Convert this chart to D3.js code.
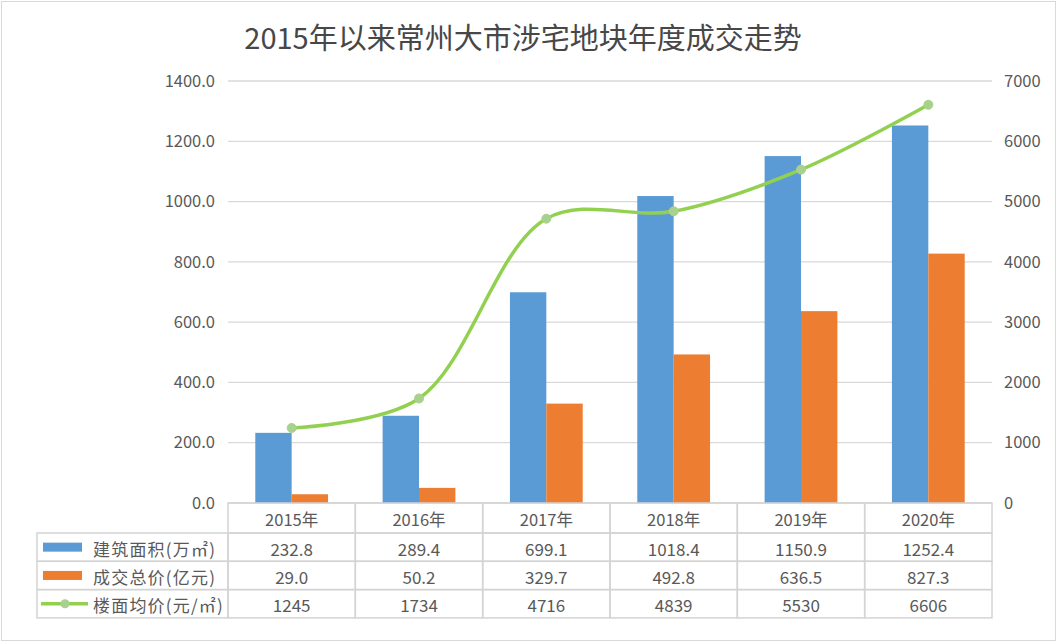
<!DOCTYPE html>
<html>
<head>
<meta charset="utf-8">
<script src="https://cdn.jsdelivr.net/npm/d3@7"></script>
<style>
  html, body { margin: 0; padding: 0; background: #fff; }
  svg { display: block; font-family: "Noto Sans CJK SC", "Noto Sans", sans-serif; }
</style>
</head>
<body>
<svg id="chart" width="1058" height="644"></svg>
<script>
// chart data
const years = ['2015年', '2016年', '2017年', '2018年', '2019年', '2020年'];
const area = [232.8, 289.4, 699.1, 1018.4, 1150.9, 1252.4];   // 建筑面积
const total = [29.0, 50.2, 329.7, 492.8, 636.5, 827.3];        // 成交总价
const price = [1245, 1734, 4716, 4839, 5530, 6606];            // 楼面均价
const seriesNames = ['建筑面积(万㎡)', '成交总价(亿元)', '楼面均价(元/㎡)'];
const leftTicks = [0, 200, 400, 600, 800, 1000, 1200, 1400];
const rightTicks = [0, 1000, 2000, 3000, 4000, 5000, 6000, 7000];
const title = '2015年以来常州大市涉宅地块年度成交走势';

const blue = '#5b9bd5', orange = '#ed7d31', green = '#92d050', markerFill = '#a9d18e';
const textColor = '#595959';

const svg = d3.select('#chart');

// outer frame
svg.append('rect')
    .attr('x', 1.5).attr('y', 1.5).attr('width', 1054).attr('height', 639)
    .attr('fill', '#fff').attr('stroke', '#d9d9d9');

// title
svg.append('text')
    .attr('x', 523).attr('y', 36)
    .attr('text-anchor', 'middle').attr('dominant-baseline', 'central')
    .attr('font-size', 29).attr('fill', '#474747')
    .text(title);

// scales
let x = d3.scaleBand().domain(years).range([228, 992]);
let y = d3.scaleLinear().domain([0, 1400]).range([503, 81]);
let y2 = d3.scaleLinear().domain([0, 7000]).range([503, 81]);

// gridlines
svg.append('g').selectAll('line')
    .data(leftTicks)
    .join('line')
    .attr('x1', 228).attr('x2', 992)
    .attr('y1', d => y(d)).attr('y2', d => y(d))
    .attr('stroke', '#d9d9d9').attr('stroke-width', 1.3);

// axes
let leftAxis = svg.append('g')
    .attr('transform', 'translate(228,0)')
    .call(d3.axisLeft(y).tickValues(leftTicks).tickFormat(d3.format('.1f')).tickSize(0).tickPadding(13));
let rightAxis = svg.append('g')
    .attr('transform', 'translate(992,0)')
    .call(d3.axisRight(y2).tickValues(rightTicks).tickFormat(d => d).tickSize(0).tickPadding(12));
[leftAxis, rightAxis].forEach(a => {
    a.select('.domain').remove();
    a.selectAll('text')
        .attr('font-size', 16.5).attr('fill', textColor)
        .attr('font-family', '"Noto Sans CJK SC", sans-serif');
});

// bars (gap width 150%)
let barW = x.bandwidth() / 3.5;
let bars = svg.append('g');
bars.selectAll('.area')
    .data(area)
    .join('rect')
    .attr('x', (d, i) => x(years[i]) + x.bandwidth() / 2 - barW)
    .attr('y', d => y(d))
    .attr('width', barW)
    .attr('height', d => y(0) - y(d))
    .attr('fill', blue);
bars.selectAll('.total')
    .data(total)
    .join('rect')
    .attr('x', (d, i) => x(years[i]) + x.bandwidth() / 2)
    .attr('y', d => y(d))
    .attr('width', barW)
    .attr('height', d => y(0) - y(d))
    .attr('fill', orange);

// smoothed price line
let line = d3.line()
    .x((d, i) => x(years[i]) + x.bandwidth() / 2)
    .y(d => y2(d))
    .curve(d3.curveCatmullRom.alpha(0.5));
svg.append('path')
    .datum(price)
    .attr('d', line)
    .attr('fill', 'none')
    .attr('stroke', green)
    .attr('stroke-width', 3.5);
svg.append('g').selectAll('circle')
    .data(price)
    .join('circle')
    .attr('cx', (d, i) => x(years[i]) + x.bandwidth() / 2)
    .attr('cy', d => y2(d))
    .attr('r', 4.5)
    .attr('fill', markerFill)
    .attr('stroke', markerFill);

// data table
const tableTop = 503, headH = 30, rowH = 28.3, labelLeft = 37;
const colLeft = i => x(years[i]);
let table = svg.append('g');
let lineColor = '#d4d4d4';

// header row
years.forEach((yr, i) => {
    table.append('rect')
        .attr('x', colLeft(i)).attr('y', tableTop)
        .attr('width', x.bandwidth()).attr('height', headH)
        .attr('fill', 'none').attr('stroke', lineColor).attr('stroke-width', 1.5);
    table.append('text')
        .attr('x', colLeft(i) + x.bandwidth() / 2).attr('y', tableTop + headH / 2 + 1)
        .attr('text-anchor', 'middle').attr('dominant-baseline', 'central')
        .attr('font-size', 16.5).attr('fill', textColor)
        .text(yr);
});

const rows = [
    { name: seriesNames[0], values: area.map(d => d.toFixed(1)), color: blue, type: 'bar' },
    { name: seriesNames[1], values: total.map(d => d.toFixed(1)), color: orange, type: 'bar' },
    { name: seriesNames[2], values: price.map(d => String(d)), color: green, type: 'line' }
];

rows.forEach((row, r) => {
    let top = tableTop + headH + r * rowH;
    let mid = top + rowH / 2;
    // label cell
    table.append('rect')
        .attr('x', labelLeft).attr('y', top)
        .attr('width', 228 - labelLeft).attr('height', rowH)
        .attr('fill', 'none').attr('stroke', lineColor).attr('stroke-width', 1.5);
    if (row.type === 'bar') {
        table.append('rect')
            .attr('x', 43).attr('y', mid - 4.5)
            .attr('width', 39).attr('height', 9)
            .attr('fill', row.color);
    } else {
        table.append('line')
            .attr('x1', 41).attr('x2', 88).attr('y1', mid).attr('y2', mid)
            .attr('stroke', row.color).attr('stroke-width', 3.5);
        table.append('circle')
            .attr('cx', 65).attr('cy', mid).attr('r', 4.5)
            .attr('fill', markerFill);
    }
    table.append('text')
        .attr('x', 93).attr('y', mid + 1)
        .attr('dominant-baseline', 'central')
        .attr('font-size', 17).attr('letter-spacing', 1.2).attr('fill', textColor)
        .text(row.name);
    // value cells
    row.values.forEach((v, i) => {
        table.append('rect')
            .attr('x', colLeft(i)).attr('y', top)
            .attr('width', x.bandwidth()).attr('height', rowH)
            .attr('fill', 'none').attr('stroke', lineColor).attr('stroke-width', 1.5);
        table.append('text')
            .attr('x', colLeft(i) + x.bandwidth() / 2).attr('y', mid + 1)
            .attr('text-anchor', 'middle').attr('dominant-baseline', 'central')
            .attr('font-size', 17).attr('fill', textColor)
            .text(v);
    });
});
</script>
</body>
</html>
